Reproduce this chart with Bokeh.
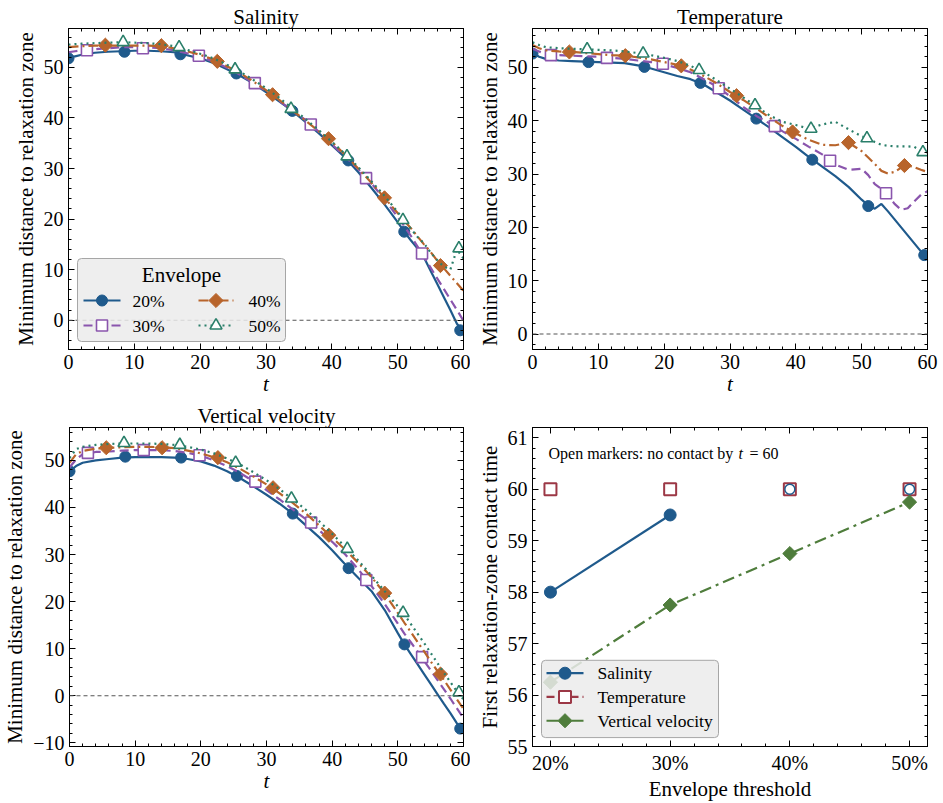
from bokeh.plotting import figure
from bokeh.models import (LinearAxis, SingleIntervalTicker, Span, BoxAnnotation,
                          Range1d, PrintfTickFormatter, Label)
from bokeh.layouts import column, row
from bokeh.embed import file_html
from bokeh.resources import INLINE

FONT = "Liberation Serif"
NAN = float("nan")

# ---------------- data ----------------
t = [0, 1, 2, 4, 6, 8, 10, 12, 14, 16, 18, 20, 22, 24, 26, 28, 30, 32, 34, 36, 38,
     40, 42, 44, 46, 48, 50, 51, 52, 53, 54, 55, 56, 57, 58, 59, 60]

envelopes = ["20%", "30%", "40%", "50%"]

# marker times for each envelope level
mt_20 = [0, 8.5, 17, 25.5, 34, 42.5, 51, 59.5]
mt_30 = [2.8, 11.3, 19.8, 28.3, 36.8, 45.2, 53.7]
mt_40 = [5.6, 14.1, 22.6, 31.0, 39.5, 48.0, 56.5]
mt_50 = [8.3, 16.8, 25.3, 33.8, 42.3, 50.8, 59.3]

# Salinity
sal_20 = [51.8, 52.2, 52.5, 52.9, 53.1, 53.2, 53.3, 53.3, 53.2, 53.0, 52.4, 51.8, 50.9, 49.7, 48.4, 46.9, 45.1, 43.3, 41.4, 39.2, 37.0,
          34.6, 32.2, 29.3, 26.2, 22.9, 19.4, 17.5, 15.8, 14.2, 12.4, 9.8, 7.2, 4.6, 2.0, -0.7, -2.3]
sal_30 = [53.0, 53.2, 53.4, 53.6, 53.8, 54.0, 54.0, 54.0, 53.8, 53.4, 52.8, 52.1, 51.2, 50.0, 48.6, 47.0, 45.3, 43.4, 41.4, 39.6, 37.3,
          34.8, 32.4, 29.9, 27.1, 23.9, 20.4, 18.6, 16.7, 14.6, 12.5, 10.4, 8.3, 6.2, 4.1, 2.0, -0.1]
sal_40 = [54.0, 54.1, 54.2, 54.3, 54.3, 54.3, 54.3, 54.3, 54.2, 53.8, 53.2, 52.5, 51.6, 50.3, 48.9, 47.3, 45.5, 43.6, 41.5, 39.5, 37.4,
          35.3, 32.7, 30.0, 27.2, 24.2, 21.2, 19.7, 18.2, 16.6, 15.0, 13.5, 11.8, 10.3, 8.8, 7.3, 5.8]
sal_50 = [54.5, 54.6, 54.7, 54.8, 54.9, 55.0, 54.9, 54.8, 54.6, 54.2, 53.5, 52.7, 51.8, 50.6, 49.2, 47.6, 45.9, 44.0, 41.9, 39.8, 37.6,
          35.3, 32.9, 30.3, 27.5, 24.6, 21.4, 19.7, 18.1, 16.5, 15.2, 13.4, 11.9, 10.6, 10.0, 14.0, 12.2]
sal_m20 = [51.8, 53.1, 52.6, 48.8, 41.4, 31.6, 17.5, -2.0]
sal_m30 = [53.4, 53.8, 52.3, 46.9, 38.7, 28.1, 13.2]
sal_m40 = [54.4, 54.3, 51.2, 44.6, 35.9, 24.2, 10.8]
sal_m50 = [55.0, 54.0, 49.6, 41.8, 32.4, 19.8, 14.2]

# Temperature
tem_20 = [52.7, 52.0, 51.6, 51.3, 51.2, 51.1, 51.0, 50.9, 50.8, 50.4, 49.8, 49.1, 48.4, 47.8, 46.8, 45.3, 43.8, 42.1, 40.4, 38.7, 36.9,
          35.1, 33.2, 31.4, 29.6, 27.6, 25.2, 24.1, 23.5, 24.4, 23.0, 21.5, 20.0, 18.5, 17.0, 15.5, 14.6]
tem_30 = [53.5, 53.0, 52.5, 52.3, 52.2, 52.1, 52.0, 51.8, 51.6, 51.3, 51.0, 50.6, 49.9, 49.1, 47.8, 46.4, 44.6, 42.6, 40.9, 39.5, 38.0,
          36.6, 35.1, 33.7, 31.8, 30.8, 31.0, 29.8, 28.1, 27.2, 26.0, 24.4, 23.3, 23.6, 24.9, 26.1, 26.8]
tem_40 = [54.2, 53.6, 53.2, 53.0, 52.9, 52.7, 52.5, 52.3, 52.2, 51.9, 51.5, 51.0, 50.5, 49.6, 48.4, 47.0, 45.4, 43.9, 42.3, 40.6, 39.0,
          37.6, 36.4, 35.5, 35.4, 35.9, 34.3, 33.1, 31.9, 30.6, 30.1, 30.4, 31.2, 31.6, 31.3, 30.8, 30.4]
tem_50 = [54.7, 54.2, 53.8, 53.6, 53.5, 53.4, 53.3, 53.2, 53.0, 52.7, 52.3, 51.8, 51.2, 50.3, 49.1, 47.6, 46.0, 44.4, 42.7, 41.0, 39.8,
          39.2, 38.5, 39.3, 39.8, 38.4, 37.1, 36.6, 36.0, 35.5, 35.3, 35.2, 35.2, 35.2, 35.1, 34.3, 34.1]
tem_m20 = [52.6, 51.0, 50.1, 47.1, 40.4, 32.7, 24.0, 14.8]
tem_m30 = [52.3, 51.8, 50.7, 46.1, 39.0, 32.5, 26.4]
tem_m40 = [52.9, 52.2, 50.3, 44.7, 37.9, 35.9, 31.6]
tem_m50 = [53.4, 52.6, 49.5, 42.9, 38.5, 36.7, 34.1]

# Vertical velocity
vv_20 = [47.7, 48.8, 49.5, 50.0, 50.3, 50.6, 50.7, 50.7, 50.7, 50.6, 50.3, 49.8, 48.9, 47.7, 46.2, 44.5, 42.7, 40.8, 38.7, 36.2, 33.7,
         30.9, 27.9, 25.0, 22.2, 18.2, 13.3, 10.9, 8.8, 6.7, 4.6, 2.5, 0.4, -1.7, -3.7, -5.9, -7.8]
vv_30 = [48.5, 50.2, 51.3, 51.8, 51.9, 52.1, 52.2, 52.2, 52.2, 52.0, 51.6, 51.0, 50.0, 48.8, 47.3, 45.6, 43.7, 41.7, 39.6, 37.5, 35.2,
         32.7, 30.0, 26.8, 23.3, 19.5, 15.3, 13.2, 11.3, 9.4, 7.4, 5.4, 3.4, 1.4, -0.6, -2.7, -4.8]
vv_40 = [49.5, 51.3, 52.0, 52.5, 52.7, 52.8, 52.9, 52.9, 52.8, 52.6, 52.1, 51.5, 50.7, 49.6, 48.2, 46.6, 44.9, 43.0, 41.0, 38.7, 36.2,
         33.6, 31.0, 28.2, 25.2, 21.7, 17.6, 15.5, 13.5, 11.4, 9.4, 7.3, 5.3, 3.4, 1.3, -0.8, -2.8]
vv_50 = [50.5, 52.4, 52.9, 53.3, 53.5, 53.6, 53.6, 53.6, 53.5, 53.3, 52.9, 52.3, 51.5, 50.4, 49.1, 47.5, 45.8, 43.9, 41.7, 39.5, 37.1,
         34.4, 31.6, 28.7, 25.5, 22.2, 19.0, 17.2, 15.2, 13.2, 11.2, 9.1, 7.0, 4.9, 2.9, 0.9, -0.8]
vv_m20 = [47.7, 50.8, 50.6, 46.7, 38.7, 27.1, 10.9, -7.0]
vv_m30 = [51.6, 52.2, 51.1, 45.5, 36.8, 24.6, 8.2]
vv_m40 = [52.7, 52.7, 50.6, 44.2, 34.1, 21.8, 4.6]
vv_m50 = [53.7, 53.3, 49.5, 41.9, 31.2, 17.6, 0.7]

# First contact time panel
thresholds = [20, 30, 40, 50]
contact_salinity = [58.0, 59.5, 60.0, 60.0]
reached_salinity = [True, True, False, False]
contact_temperature = [60.0, 60.0, 60.0, 60.0]
reached_temperature = [False, False, False, False]
contact_vv = [56.25, 57.75, 58.75, 59.75]
reached_vv = [True, True, True, True]

# ---------------- style ----------------
C20, C30, C40, C50 = "#1f5a8c", "#8a55ad", "#b8642b", "#2a7f6a"
C_SAL, C_TEM, C_VV = "#1f5a8c", "#9c3846", "#4f7d3c"
DIAMOND = 0.785398  # square marker turned 45 degrees

STY = {
    "20%": dict(color=C20, dash="solid", marker="circle", size=11, fill=C20, angle=0.0, lw_m=1),
    "30%": dict(color=C30, dash="9 5", marker="square", size=11, fill="white", angle=0.0, lw_m=1.6),
    "40%": dict(color=C40, dash="10 4 2 4", marker="square", size=10, fill=C40, angle=DIAMOND, lw_m=1),
    "50%": dict(color=C50, dash="2 4", marker="triangle", size=12, fill="white", angle=0.0, lw_m=1.6),
}
STY_C = {
    "Salinity": dict(color=C_SAL, dash="solid", marker="circle", size=12, fill=C_SAL, angle=0.0, lw_m=1),
    "Temperature": dict(color=C_TEM, dash="8 4", marker="square", size=12, fill="white", angle=0.0, lw_m=2),
    "Vertical velocity": dict(color=C_VV, dash="12 5 3 5", marker="square", size=10, fill=C_VV,
                              angle=DIAMOND, lw_m=1),
}


def style_axis(ax, size="20px", standoff=5):
    ax.major_tick_in = 6
    ax.major_tick_out = 0
    ax.minor_tick_in = 3
    ax.minor_tick_out = 0
    ax.major_tick_line_color = "black"
    ax.minor_tick_line_color = "black"
    ax.axis_line_color = "black"
    ax.major_label_text_font = FONT
    ax.major_label_text_font_size = size
    ax.major_label_text_color = "black"
    ax.major_label_standoff = standoff
    ax.axis_label_text_font = FONT
    ax.axis_label_text_font_size = "21px"
    ax.axis_label_text_color = "black"
    ax.axis_label_text_font_style = "normal"


class Panel:
    """figure with a fixed frame and helpers turning frame pixel offsets into data positions"""

    def __init__(self, title, xr, yr, xint, yint, left, right, top, bottom, fw, fh):
        self.xr, self.yr, self.fw, self.fh = xr, yr, fw, fh
        p = figure(width=left + fw + right, height=top + fh + bottom,
                   x_range=Range1d(*xr), y_range=Range1d(*yr),
                   output_backend="svg", toolbar_location=None,
                   min_border_left=left, min_border_right=right,
                   min_border_top=top, min_border_bottom=bottom)
        p.outline_line_color = "black"
        p.outline_line_width = 1
        p.xgrid.visible = False
        p.ygrid.visible = False
        if title:
            p.title.text = title
            p.title.align = "center"
            p.title.text_font = FONT
            p.title.text_font_size = "21px"
            p.title.text_font_style = "normal"
            p.title.text_color = "black"
            p.title.standoff = 0
            p.title.offset = 0
        self.xb = p.below[0]
        self.yl = p.left[0]
        self.xb.ticker = SingleIntervalTicker(interval=xint, num_minor_ticks=5)
        self.yl.ticker = SingleIntervalTicker(interval=yint, num_minor_ticks=5)
        style_axis(self.xb, standoff=5)
        style_axis(self.yl, standoff=5)
        self.xb.axis_label_standoff = 0
        self.yl.axis_label_standoff = 3
        for place, iv in (("above", xint), ("right", yint)):
            ax = LinearAxis(ticker=SingleIntervalTicker(interval=iv, num_minor_ticks=5))
            style_axis(ax, size="1px", standoff=0)
            ax.major_label_text_color = None
            p.add_layout(ax, place)
        self.p = p

    def px(self, rx):
        return self.xr[0] + rx * (self.xr[1] - self.xr[0]) / self.fw

    def py(self, ry):
        return self.yr[1] - ry * (self.yr[1] - self.yr[0]) / self.fh

    def pos(self, rx, ry):
        return self.px(rx), self.py(ry)

    def legend(self, box, title, entries, styles, font="17.5px"):
        """box=(l, t, r, b) in frame pixels; entries=(name, glyph_l, glyph_r, text_x, row_y)"""
        l, tp, r, b = box
        ba = BoxAnnotation(left=self.px(l), right=self.px(r), top=self.py(tp), bottom=self.py(b),
                           fill_color="#ebebeb", fill_alpha=0.85, line_color="#a6a6a6",
                           line_width=1, line_alpha=1)
        try:
            ba.border_radius = 4
        except Exception:
            pass
        self.p.add_layout(ba)
        if title:
            x, y = self.pos((l + r) / 2, title[1])
            self.p.add_layout(Label(x=x, y=y, text=title[0], text_font=FONT, text_font_size="21px",
                                    text_align="center", text_baseline="middle",
                                    text_color="black", level="overlay"))
        for name, g0, g1, tx, ry in entries:
            s = styles[name]
            yy = self.py(ry)
            self.p.line([self.px(g0), self.px(g1)], [yy, yy], line_color=s["color"],
                        line_width=2.2, line_dash=s["dash"], level="overlay")
            self.p.scatter([self.px((g0 + g1) / 2)], [yy], marker=s["marker"], size=s["size"],
                           angle=s["angle"], fill_color=s["fill"], line_color=s["color"],
                           line_width=s["lw_m"], level="overlay")
            self.p.add_layout(Label(x=self.px(tx), y=yy, text=name, text_font=FONT,
                                    text_font_size=font, text_align="left",
                                    text_baseline="middle", text_color="black", level="overlay"))


def time_panel(title, series, marks, yr, left, right, top, bottom, fh, legend=False):
    pn = Panel(title, (0, 60), yr, 10, 10, left, right, top, bottom, 395, fh)
    p = pn.p
    pn.xb.axis_label = "t"
    pn.xb.axis_label_text_font_style = "italic"
    pn.yl.axis_label = "Minimum distance to relaxation zone"
    p.add_layout(Span(location=0, dimension="width", line_color="#555555",
                      line_width=1.1, line_dash="4 3"))
    mts = {"20%": mt_20, "30%": mt_30, "40%": mt_40, "50%": mt_50}
    for env in envelopes:
        s = STY[env]
        p.line(t, series[env], line_color=s["color"], line_width=2.2, line_dash=s["dash"])
        p.scatter(mts[env], marks[env], marker=s["marker"], size=s["size"], angle=s["angle"],
                  fill_color=s["fill"], line_color=s["color"], line_width=s["lw_m"])
    if legend:
        rows = {"20%": (15, 52, 64, 272), "30%": (15, 52, 64, 297),
                "40%": (130, 165, 180, 272), "50%": (130, 165, 180, 297)}
        pn.legend((9, 230, 217, 313), ("Envelope", 246),
                  [(e,) + rows[e] for e in envelopes], STY)
    return p


p1 = time_panel("Salinity",
                {"20%": sal_20, "30%": sal_30, "40%": sal_40, "50%": sal_50},
                {"20%": sal_m20, "30%": sal_m30, "40%": sal_m40, "50%": sal_m50},
                (-5.8, 57.7), 68, 7, 28, 51, 321, legend=True)
p2 = time_panel("Temperature",
                {"20%": tem_20, "30%": tem_30, "40%": tem_40, "50%": tem_50},
                {"20%": tem_m20, "30%": tem_m30, "40%": tem_m40, "50%": tem_m50},
                (-2.9, 57.3), 62, 16, 28, 51, 321)
p3 = time_panel("Vertical velocity",
                {"20%": vv_20, "30%": vv_30, "40%": vv_40, "50%": vv_50},
                {"20%": vv_m20, "30%": vv_m30, "40%": vv_m40, "50%": vv_m50},
                (-10.8, 57.0), 68, 7, 27, 54, 322)

# ---- contact-time panel ----
pn4 = Panel("", (18.5, 51.5), (55, 61.2), 10, 1, 62, 16, 27, 54, 395, 322)
p4 = pn4.p
pn4.xb.formatter = PrintfTickFormatter(format="%d%%")
pn4.xb.axis_label = "Envelope threshold"
pn4.yl.axis_label = "First relaxation-zone contact time"


def reached_only(vals, flags):
    return [v if f else NAN for v, f in zip(vals, flags)]


def open_only(vals, flags):
    return [NAN if f else v for v, f in zip(vals, flags)]


s = STY_C["Salinity"]
p4.line(thresholds, reached_only(contact_salinity, reached_salinity),
        line_color=s["color"], line_width=2.2)
p4.scatter(thresholds, reached_only(contact_salinity, reached_salinity),
           marker="circle", size=s["size"], fill_color=s["fill"], line_color=s["color"])
s = STY_C["Temperature"]
p4.line(thresholds, reached_only(contact_temperature, reached_temperature),
        line_color=s["color"], line_width=2.2, line_dash=s["dash"])
p4.scatter(thresholds, open_only(contact_temperature, reached_temperature),
           marker="square", size=s["size"], fill_color="white", line_color=s["color"], line_width=2)
p4.scatter(thresholds, open_only(contact_salinity, reached_salinity),
           marker="circle", size=10, fill_color="white", line_color=C_SAL, line_width=1.5)
s = STY_C["Vertical velocity"]
p4.line(thresholds, reached_only(contact_vv, reached_vv),
        line_color=s["color"], line_width=2.2, line_dash=s["dash"])
p4.scatter(thresholds, reached_only(contact_vv, reached_vv), marker="square", size=s["size"],
           angle=DIAMOND, fill_color=s["fill"], line_color=s["color"])

pn4.legend((9, 235, 186, 313), None,
           [("Salinity", 14, 51, 65, 248), ("Temperature", 14, 51, 65, 272),
            ("Vertical velocity", 14, 51, 65, 296)], STY_C)

for txt, rx, style in (("Open markers: no contact by", 16, "normal"),
                       ("t", 206, "italic"),
                       ("= 60", 217, "normal")):
    x, y = pn4.pos(rx, 26)
    p4.add_layout(Label(x=x, y=y, text=txt, text_font=FONT, text_font_size="16px",
                        text_font_style=style, text_baseline="middle", text_align="left",
                        text_color="black"))

layout = column(row(p1, p2), row(p3, p4))
open("out.html", "w").write(file_html(layout, INLINE))
